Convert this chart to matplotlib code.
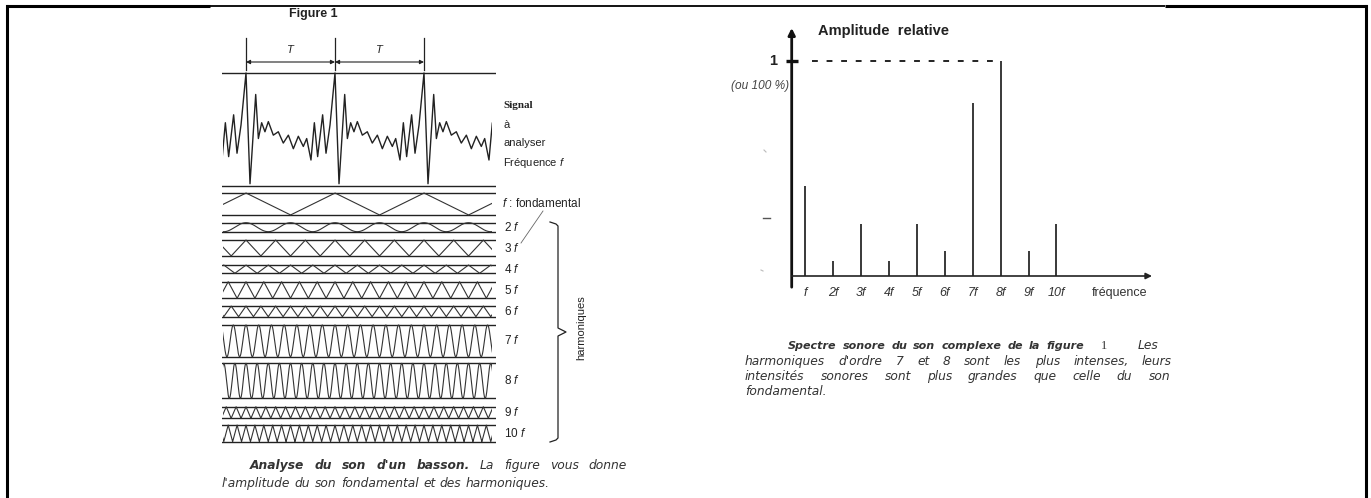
import numpy as np
import matplotlib
matplotlib.use("Agg")
import matplotlib.pyplot as plt
from matplotlib.patches import Rectangle

W, H, DPI = 1371, 498, 100

plt.rcParams['font.family'] = ['Liberation Sans', 'DejaVu Sans']
plt.rcParams['mathtext.fontset'] = 'custom'
plt.rcParams['mathtext.rm'] = 'Liberation Sans'
plt.rcParams['mathtext.it'] = 'Liberation Sans:italic'
plt.rcParams['mathtext.bf'] = 'Liberation Sans:bold'

# ---------------- data : spectre ----------------
harmonic_orders = [1, 2, 3, 4, 5, 6, 7, 8, 9, 10]
harmonic_ticklabels = ["f", "2f", "3f", "4f", "5f", "6f", "7f", "8f", "9f", "10f"]
relative_amplitude = [0.42, 0.07, 0.24, 0.07, 0.24, 0.115, 0.805, 1.0, 0.115, 0.24]

# ---------------- data : figure 1 (décomposition) ----------------
strip_orders = [1, 2, 3, 4, 5, 6, 7, 8, 9, 10]
strip_labels = ["$f$ : fondamental", "2 $f$", "3 $f$", "4 $f$", "5 $f$",
                "6 $f$", "7 $f$", "8 $f$", "9 $f$", "10 $f$"]
strip_top = [193, 222.7, 240, 265, 281.7, 306, 325, 363.3, 406.7, 425]
strip_bottom = [215, 231.7, 256, 273.3, 298.3, 316.7, 356.7, 398.3, 418.3, 441.7]
strip_shape = ["tri", "sin", "tri", "tri", "tri", "tri", "sin", "sin", "tri", "tri"]

# one period of the bassoon signal (phase in periods, level 0 = bottom line, 1 = top line)
signal_phase = [0.000, 0.045, 0.109, 0.139, 0.176, 0.213, 0.251, 0.307, 0.363,
                0.419, 0.476, 0.532, 0.588, 0.644, 0.682, 0.730, 0.768, 0.805,
                0.861, 0.899, 0.944]
signal_level = [1.00, 0.02, 0.81, 0.42, 0.56, 0.48, 0.57, 0.45, 0.48,
                0.38, 0.45, 0.33, 0.44, 0.35, 0.42, 0.23, 0.56, 0.26,
                0.63, 0.29, 0.54]
signal_top, signal_bottom = 73, 186
period_marks = [0, 1, 2]

INK = "#222222"

fig = plt.figure(figsize=(W / DPI, H / DPI), dpi=DPI)
ax_bg = fig.add_axes([0, 0, 1, 1])
ax_bg.set_xlim(0, W)
ax_bg.set_ylim(H, 0)
ax_bg.axis('off')


def px_axes(x0, y0, x1, y1):
    a = fig.add_axes([x0 / W, 1 - y1 / H, (x1 - x0) / W, (y1 - y0) / H])
    a.patch.set_alpha(0)
    return a


# ---------------- frame ----------------
ax_bg.plot([7, 7], [6, H + 5], color='k', lw=2.2, clip_on=False)
ax_bg.plot([1366, 1366], [6, H + 5], color='k', lw=2.2, clip_on=False)
ax_bg.plot([6, 210], [6, 6], color='k', lw=2.2, solid_capstyle='butt')
ax_bg.plot([210, 1165], [5.5, 5.5], color='k', lw=1.3, solid_capstyle='butt')
ax_bg.plot([1165, 1367], [6, 6], color='k', lw=2.2, solid_capstyle='butt')

# ---------------- Figure 1 : waveforms ----------------
PX_PER_T = 89.0
x_left, x_right, t0_px = 222, 496, 246
ax_w = px_axes(x_left, 30, x_right, 445)
ax_w.set_xlim((x_left - t0_px) / PX_PER_T, (x_right - t0_px) / PX_PER_T)
ax_w.set_ylim(445, 30)
ax_w.axis('off')
wave_clip = Rectangle(((223 - t0_px) / PX_PER_T, 0), (492 - 223) / PX_PER_T, 500,
                      transform=ax_w.transData, fill=False)

# signal box
for yy in (signal_top, signal_bottom):
    ax_w.axhline(yy, color=INK, lw=1.0)
ph = np.array(signal_phase)
lv = np.array(signal_level)
sx = np.concatenate([ph + k for k in range(-1, 4)])
sy = np.concatenate([lv for _ in range(-1, 4)])
line, = ax_w.plot(sx, signal_bottom - sy * (signal_bottom - signal_top), color=INK, lw=1.0,
                  solid_joinstyle='round')
line.set_clip_path(wave_clip)

# period arrows
for tm in period_marks:
    ax_w.plot([tm, tm], [38, 70], color=INK, lw=0.9)
for a, b in zip(period_marks[:-1], period_marks[1:]):
    ax_w.annotate("", xy=(b, 62), xytext=(a, 62),
                  arrowprops=dict(arrowstyle='<|-|>', color=INK, lw=0.8,
                                  mutation_scale=6, shrinkA=0, shrinkB=0))
    ax_w.text((a + b) / 2, 50, "T", fontsize=8, style='italic', ha='center',
              va='center', color=INK)

# harmonic strips
t = np.linspace(-0.3, 2.85, 4000)
for n, top, bot, shp in zip(strip_orders, strip_top, strip_bottom, strip_shape):
    ax_w.axhline(top, color=INK, lw=1.0)
    ax_w.axhline(bot, color=INK, lw=1.0)
    phase = n * t
    if shp == "sin":
        level = 0.5 + 0.5 * np.cos(2 * np.pi * phase)
    else:
        level = 2 * np.abs(np.mod(phase, 1.0) - 0.5)
    ln, = ax_w.plot(t, bot - level * (bot - top), color="#333333", lw=0.8)
    ln.set_clip_path(wave_clip)

# labels of figure 1
ax_bg.text(313, 14, "Figure 1", fontsize=9, fontweight='bold', ha='center', va='center', color=INK)
ax_bg.text(503, 105, "Signal", fontsize=8, fontweight='bold', family='Liberation Serif',
           ha='left', va='center', color=INK)
ax_bg.text(503, 125, "à", fontsize=8, ha='left', va='center', color=INK)
ax_bg.text(503, 143, "analyser", fontsize=8, ha='left', va='center', color=INK)
ax_bg.text(503, 163, "Fréquence $f$", fontsize=8, ha='left', va='center', color=INK)
for lab, top, bot, n in zip(strip_labels, strip_top, strip_bottom, strip_orders):
    yc = (top + bot) / 2 if n > 1 else 203
    ax_bg.text(502 if n == 1 else 504, yc, lab, fontsize=8.5, ha='left', va='center', color=INK)
# leader line from "fondamental" towards the labels
ax_bg.plot([543, 521], [211, 243], color="#666666", lw=0.6)
# brace
by = np.array([222, 224, 226, 328, 332, 336, 438, 440, 442])
bx = np.array([550, 556, 558, 558, 566, 558, 558, 556, 550])
ax_bg.plot(bx, by, color=INK, lw=0.9)
ax_bg.text(581, 328, "harmoniques", rotation=90, fontsize=8, ha='center', va='center', color=INK)

# ---------------- Spectre ----------------
x_step = 27.9
x_zero_px = 805.3 - x_step
y_base_px, y_one_px = 276, 61
ax_lo_x, ax_hi_x = (791.7 - x_zero_px) / x_step, (1152 - x_zero_px) / x_step
y_top_val = (y_base_px - 28) / (y_base_px - y_one_px)
ax_s = px_axes(791.7, 28, 1152, y_base_px)
ax_s.set_xlim(ax_lo_x, ax_hi_x)
ax_s.set_ylim(0, y_top_val)
ax_s.axis('off')

ax_s.annotate("", xy=(ax_lo_x, y_top_val), xytext=(ax_lo_x, -0.052),
              arrowprops=dict(arrowstyle='-|>', color='#111111', lw=2.0,
                              mutation_scale=10, shrinkA=0, shrinkB=0),
              annotation_clip=False)
ax_s.annotate("", xy=(ax_hi_x, 0), xytext=(ax_lo_x, 0),
              arrowprops=dict(arrowstyle='-|>', color='#222222', lw=1.2,
                              mutation_scale=9, shrinkA=0, shrinkB=0),
              annotation_clip=False)
ax_s.vlines(harmonic_orders, 0, relative_amplitude, color='#2a2a2a', lw=1.3)
ax_s.plot([1.24, 8], [1, 1], color='#222222', lw=1.4, dashes=(3, 4.5))
ax_s.plot([ax_lo_x - 0.22, ax_lo_x + 0.22], [1, 1], color='#111111', lw=2.4,
          solid_capstyle='butt', clip_on=False)
for xv, lab in zip(harmonic_orders, harmonic_ticklabels):
    ax_s.text(xv, -0.079, lab, fontsize=9, style='italic', ha='center', va='center',
              color='#333333', clip_on=False)
ax_s.text(12.28, -0.079, "fréquence", fontsize=9, ha='center', va='center',
          color='#333333', clip_on=False)
ax_bg.text(818, 31, "Amplitude  relative", fontsize=10.5, fontweight='bold', ha='left',
           va='center', color=INK)
ax_bg.text(773, 61, "1", fontsize=10.5, fontweight='bold', ha='center', va='center', color=INK)
ax_bg.text(760, 86, "(ou 100 %)", fontsize=8.6, style='italic', ha='center', va='center',
           color='#444444')
# faint scan marks left of the axis
ax_bg.plot([763, 770], [218, 218], color='#555555', lw=1.0)
ax_bg.plot([764, 766], [150, 152], color='#bbbbbb', lw=0.8)
ax_bg.plot([761, 763], [270, 271], color='#bbbbbb', lw=0.8)

# ---------------- captions (justified) ----------------
fig.canvas.draw()
renderer = fig.canvas.get_renderer()
CAP = dict(fontsize=8.8, family='DejaVu Sans', color='#333333')
BI = dict(CAP, style='italic', fontweight='bold')
IT = dict(CAP, style='italic')
BI_SMALL = dict(BI, fontsize=8.0)


def place_words(words, x0, baseline, x1=None, clip=None):
    arts = [ax_bg.text(0, baseline, w, va='baseline', ha='left', **kw) for w, kw in words]
    widths = [a.get_window_extent(renderer).width for a in arts]
    if x1 is None or len(arts) < 2:
        gap = 4.5
    else:
        gap = (x1 - x0 - sum(widths)) / (len(arts) - 1)
    x = x0
    for a, w in zip(arts, widths):
        a.set_x(x)
        if clip is not None:
            a.set_clip_path(clip)
        x += w + gap


left_cap_1 = [(w, BI) for w in "Analyse du son d'un basson.".split()] + \
             [(w, IT) for w in "La figure vous donne".split()]
left_cap_2 = [(w, IT) for w in "l'amplitude du son fondamental et des harmoniques.".split()]
place_words(left_cap_1, 250, 468.5, 627)
place_words(left_cap_2, 222, 486.5)

right_clip = Rectangle((0, 0), 1161, H, transform=ax_bg.transData, fill=False)
right_cap_1 = [(w, BI_SMALL) for w in "Spectre sonore du son complexe de la figure".split()]
right_cap_2 = [(w, IT) for w in "harmoniques d'ordre 7 et 8 sont les plus intenses, leurs".split()]
right_cap_3 = [(w, IT) for w in "intensités sonores sont plus grandes que celle du son".split()]
right_cap_4 = [("fondamental.", IT)]
place_words(right_cap_1, 788, 348.5, 1084)
place_words([("1", dict(CAP, family='Liberation Serif'))], 1101, 348.5)
place_words([("Les", IT)], 1138, 348.5, None, right_clip)
place_words(right_cap_2, 745, 364.5, 1172, right_clip)
place_words(right_cap_3, 745, 379.5, 1170, right_clip)
place_words(right_cap_4, 745, 394.5)

fig.savefig("out.png", dpi=DPI)
